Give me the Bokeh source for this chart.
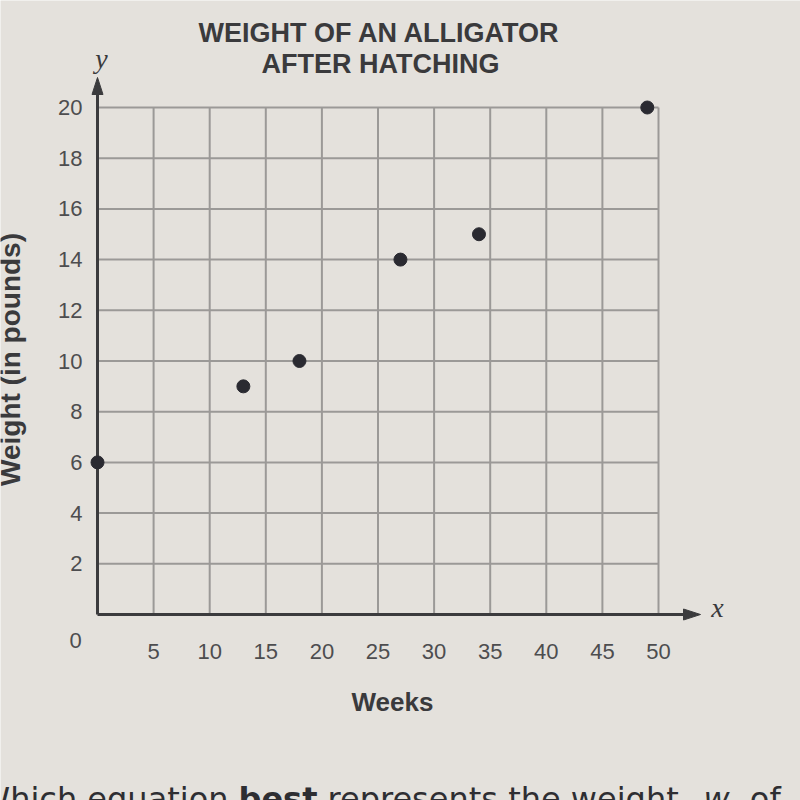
import math
from bokeh.plotting import figure
from bokeh.models import Label, Range1d, ColumnDataSource
from bokeh.embed import file_html
from bokeh.resources import INLINE

# ---- data ----
weeks = [0, 13, 18, 27, 34, 49]
weight = [6, 9, 10, 14, 15, 20]
x_ticks = [5, 10, 15, 20, 25, 30, 35, 40, 45, 50]
y_ticks = [2, 4, 6, 8, 10, 12, 14, 16, 18, 20]
title_lines = ["WEIGHT OF AN ALLIGATOR", "AFTER HATCHING"]
x_label = "Weeks"
y_label = "Weight (in pounds)"

BG = "#e4e1dc"
GRID = "#9b9997"
AXIS = "#3b3b3d"
TXT = "#3a3a3c"
TICK = "#4d4d4f"

# pixel box of the 0..50 x 0..20 grid on the 800x800 canvas
L, R, T, B = 97, 658, 107, 614
XMAX, YMAX = 50, 20

def dx(px):
    return (px - L) / (R - L) * XMAX

def dy(py):
    return (B - py) / (B - T) * YMAX

p = figure(width=800, height=800,
           x_range=Range1d(dx(0), dx(800)), y_range=Range1d(dy(800), dy(0)),
           output_backend="svg", toolbar_location=None, title=None,
           x_axis_location=None, y_axis_location=None, min_border=0)
p.grid.visible = False
p.background_fill_color = BG
p.border_fill_color = BG
p.outline_line_color = None

# grid lines built from the tick lists
p.segment(x0=x_ticks, y0=[0] * len(x_ticks), x1=x_ticks, y1=[YMAX] * len(x_ticks),
          line_color=GRID, line_width=2)
p.segment(x0=[0] * len(y_ticks), y0=y_ticks, x1=[XMAX] * len(y_ticks), y1=y_ticks,
          line_color=GRID, line_width=2)

# axes with arrowheads
ytip, xtip = dy(77), dx(700)
p.line([0, 0], [0, dy(90)], line_color=AXIS, line_width=3)
p.line([0, dx(686)], [0, 0], line_color=AXIS, line_width=3)
p.patch([dx(L - 5.5), dx(L + 5.5), 0], [dy(94), dy(94), ytip],
        fill_color=AXIS, line_color=AXIS, line_width=1)
p.patch([dx(683), dx(683), xtip], [dy(B - 5.5), dy(B + 5.5), 0],
        fill_color=AXIS, line_color=AXIS, line_width=1)

# tick labels
p.text(x=x_ticks, y=[0] * len(x_ticks), text=[str(t) for t in x_ticks],
       y_offset=37, text_align="center", text_baseline="middle",
       text_font={"value": "Liberation Sans"}, text_font_size="22px", text_color=TICK)
p.text(x=[0] * len(y_ticks), y=y_ticks, text=[str(t) for t in y_ticks],
       x_offset=-15, text_align="right", text_baseline="middle",
       text_font={"value": "Liberation Sans"}, text_font_size="22px", text_color=TICK)

# data points
src = ColumnDataSource(dict(x=weeks, y=weight))
p.scatter("x", "y", source=src, size=13, fill_color="#2a2a31", line_color="#2a2a31")

def lab(text, px, py, size, font="Liberation Sans", style="normal", color=TXT,
        align="center", baseline="alphabetic", angle=0.0):
    p.add_layout(Label(x=dx(px), y=dy(py), text=text, text_font=font,
                       text_font_size=f"{size}px", text_font_style=style,
                       text_color=color, text_align=align,
                       text_baseline=baseline, angle=angle))

lab(title_lines[0], 379, 32, 27, style="bold")
lab(title_lines[1], 380, 63, 27, style="bold")
lab(x_label, 392, 701, 26, style="bold")
lab(y_label, 10, 359, 28, style="bold", baseline="middle", angle=math.pi / 2)
lab("0", 75, 640, 22, color=TICK, baseline="middle")
lab("x", 717, 607, 28, font="Liberation Serif", style="italic", baseline="middle")
lab("y", 101, 58, 28, font="Liberation Serif", style="italic", baseline="middle")

# question text (cut off at the bottom, as in the photo)
q = [("Which equation", "normal", -22),
     ("best", "bold", 238),
     ("represents the weight,", "normal", 327),
     ("w", "italic", 703),
     (", of", "normal", 729)]
for txt, st, xpx in q:
    lab(txt, xpx, 798, 32, font="DejaVu Sans", style=st, color="#2e2e32", align="left")

open("out.html", "w").write(file_html(p, INLINE))
